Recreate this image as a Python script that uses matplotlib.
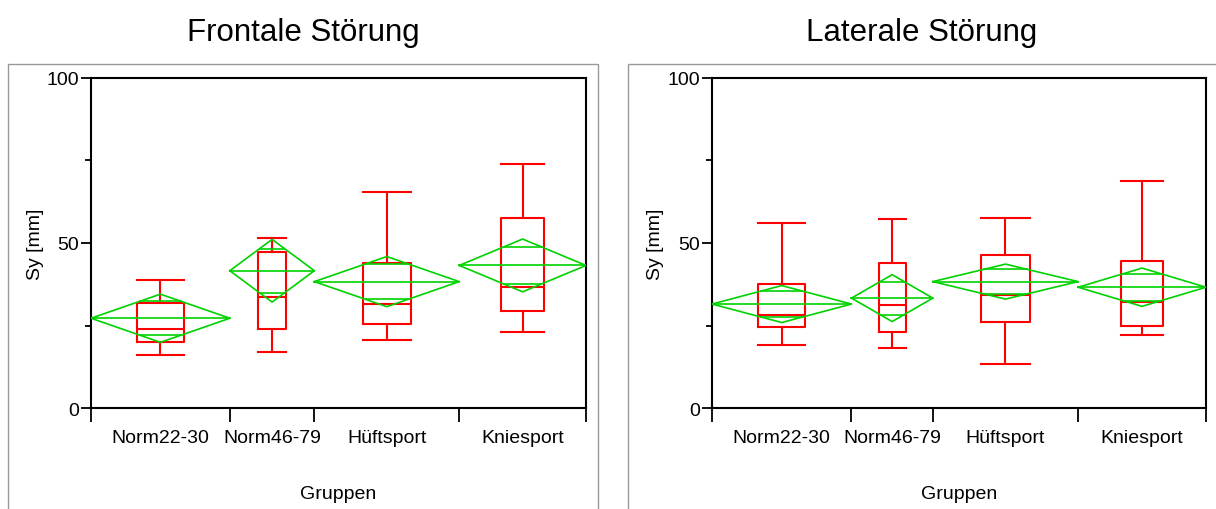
import numpy as np
import matplotlib
matplotlib.use("Agg")
import matplotlib.pyplot as plt
from matplotlib.patches import Rectangle

plt.rcParams['font.family'] = ['Liberation Sans', 'DejaVu Sans']

groups = ["Norm22-30", "Norm46-79", "Hüftsport", "Kniesport"]

# Frontale Störung
front_n = [23, 14, 24, 21]
front_mean = [27.2, 41.6, 38.3, 43.2]
front_ci = [7.3, 9.5, 7.6, 8.0]
front_whislo = [16.2, 17.1, 20.5, 23.1]
front_q1 = [19.9, 23.8, 25.5, 29.4]
front_med = [23.8, 33.7, 31.6, 36.6]
front_q3 = [31.7, 47.2, 43.8, 57.7]
front_whishi = [38.9, 51.5, 65.5, 73.8]

# Laterale Störung
lat_n = [24, 14, 25, 22]
lat_mean = [31.5, 33.3, 38.3, 36.6]
lat_ci = [5.6, 7.1, 5.3, 5.8]
lat_whislo = [19.0, 18.3, 13.2, 22.1]
lat_q1 = [24.4, 23.1, 26.0, 24.9]
lat_med = [28.3, 31.1, 34.3, 32.2]
lat_q3 = [37.7, 43.9, 46.5, 44.4]
lat_whishi = [56.2, 57.2, 57.7, 68.9]

RED = "#ff0000"
GREEN = "#00d200"


def oneway(ax, n, mean, ci, whislo, q1, med, q3, whishi):
    n = np.array(n, dtype=float)
    bounds = np.concatenate([[0], np.cumsum(n)])
    centers = bounds[:-1] + n / 2

    stats = []
    for i in range(len(n)):
        stats.append(dict(med=med[i], q1=q1[i], q3=q3[i],
                          whislo=whislo[i], whishi=whishi[i], fliers=[]))
    red = dict(color=RED, linewidth=1.5)
    ax.bxp(stats, positions=centers, widths=n / 3, capwidths=n / 3,
           showfliers=False, boxprops=red, whiskerprops=red,
           capprops=red, medianprops=red, manage_ticks=False)

    # means diamonds with overlap marks
    for i in range(len(n)):
        xl, xr, xc = bounds[i], bounds[i + 1], centers[i]
        m, h = mean[i], ci[i]
        ax.plot([xl, xc, xr, xc, xl], [m, m + h, m, m - h, m],
                color=GREEN, lw=1.2, zorder=3)
        ax.plot([xl, xr], [m, m], color=GREEN, lw=1.2, zorder=3)
        d = h / np.sqrt(2)
        hw = (xr - xl) / 2 * (1 - d / h)
        for s in (1, -1):
            ax.plot([xc - hw, xc + hw], [m + s * d, m + s * d],
                    color=GREEN, lw=1.2, zorder=3)

    ax.set_xlim(0, bounds[-1])
    ax.set_ylim(0, 100)
    ax.set_xticks(bounds, labels=[""] * len(bounds))
    ax.set_xticks(centers, labels=groups, minor=True)
    ax.tick_params(axis="x", which="major", length=10, width=1.3)
    ax.tick_params(axis="x", which="minor", length=0, pad=15, labelsize=14)
    ax.set_yticks([0, 50, 100])
    ax.set_yticks([25, 75], minor=True)
    ax.tick_params(axis="y", which="major", length=7.5, width=1.3,
                   pad=1, labelsize=14)
    ax.tick_params(axis="y", which="minor", length=4, width=1.3)
    for sp in ax.spines.values():
        sp.set_linewidth(1.5)


fig = plt.figure(figsize=(12.16, 5.10), dpi=100)
W, H = 1216, 510

panels = [
    ("Frontale Störung", 91, 586, 8, 598,
     (front_n, front_mean, front_ci, front_whislo, front_q1,
      front_med, front_q3, front_whishi)),
    ("Laterale Störung", 712, 1206, 628, 1230,
     (lat_n, lat_mean, lat_ci, lat_whislo, lat_q1,
      lat_med, lat_q3, lat_whishi)),
]

for title, x0, x1, f0, f1, data in panels:
    ax = fig.add_axes([x0 / W, 1 - 409 / H, (x1 - x0) / W, 330 / H])
    oneway(ax, *data)
    fig.patches.append(Rectangle((f0 / W, -0.05), (f1 - f0) / W, 1.05 - 65 / H,
                                 transform=fig.transFigure, fill=False,
                                 edgecolor="#999999", lw=1.0))
    xc = (x0 + x1) / 2
    fig.text((f0 + min(f1, W)) / 2 / W, 1 - 41 / H, title, ha="center",
             va="baseline", fontsize=22.5)
    fig.text(xc / W, 1 - 499 / H, "Gruppen", ha="center", va="baseline",
             fontsize=14)
    fig.text((x0 - 56) / W, 1 - 244 / H, "Sy [mm]", rotation=90,
             ha="center", va="center", fontsize=14)

fig.savefig("out.png", dpi=100)
